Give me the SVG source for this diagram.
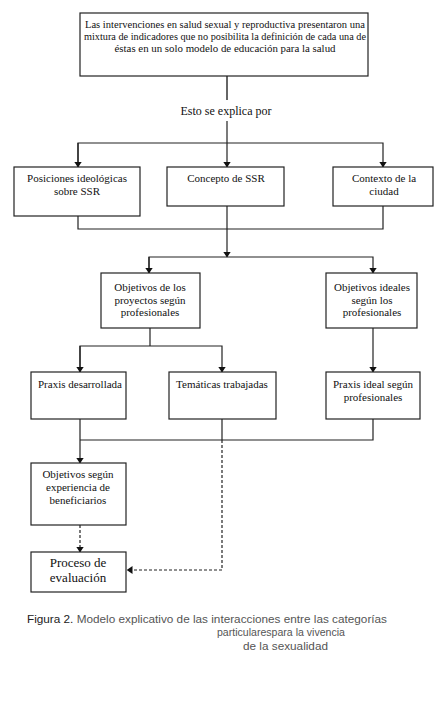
<svg xmlns="http://www.w3.org/2000/svg" width="448" height="705" viewBox="0 0 448 705">
<defs>
<marker id="ah" markerWidth="6" markerHeight="8" refX="5.5" refY="4" orient="auto" markerUnits="userSpaceOnUse">
<path d="M0,0 L6,4 L0,8 Z" fill="#111"/>
</marker>
</defs>
<style>
.box{fill:#fff;stroke:#222;stroke-width:1.2}
.t{font-family:"Liberation Serif",serif;font-size:11px;fill:#111;text-anchor:middle}
.ln{fill:none;stroke:#222;stroke-width:1.2}
.dash{fill:none;stroke:#222;stroke-width:1.2;stroke-dasharray:3,2}
.cap{font-family:"Liberation Sans",sans-serif;font-size:11px;fill:#555}
</style>
<rect width="448" height="705" fill="#fff"/>
<g id="connectors">
<line x1="227" y1="76" x2="227" y2="100" stroke="#666" stroke-width="2"/>
<line class="ln" x1="227" y1="121" x2="227" y2="167" marker-end="url(#ah)"/>
<polyline class="ln" points="78,167 78,143 383,143 383,167" marker-end="url(#ah)"/>
<line class="ln" x1="78" y1="143" x2="78" y2="167" marker-end="url(#ah)"/>
<polyline class="ln" points="78,216 78,229 383,229 383,206"/>
<line class="ln" x1="227" y1="206" x2="227" y2="257" marker-end="url(#ah)"/>
<polyline class="ln" points="149,273 149,257 373,257 373,273" marker-end="url(#ah)"/>
<line class="ln" x1="149" y1="257" x2="149" y2="273" marker-end="url(#ah)"/>
<line class="ln" x1="150" y1="328" x2="150" y2="346"/>
<polyline class="ln" points="80,372 80,346 222,346 222,372" marker-end="url(#ah)"/>
<line class="ln" x1="80" y1="346" x2="80" y2="372" marker-end="url(#ah)"/>
<line class="ln" x1="373" y1="328" x2="373" y2="372" marker-end="url(#ah)"/>
<line class="ln" x1="80" y1="419" x2="80" y2="463" marker-end="url(#ah)"/>
<polyline class="ln" points="80,440 373,440 373,419"/>
<line class="ln" x1="222" y1="419" x2="222" y2="440"/>
<polyline class="dash" points="222,440 222,570 127,570" marker-end="url(#ah)"/>
<line class="dash" x1="80" y1="525" x2="80" y2="552" marker-end="url(#ah)"/>
</g>
<g id="n-top">
<rect class="box" x="80" y="13" width="288" height="63"/>
<text class="t" x="225" y="28" style="font-size:10.5px" textLength="280" lengthAdjust="spacingAndGlyphs">Las intervenciones en salud sexual y reproductiva presentaron una</text>
<text class="t" x="225" y="40" style="font-size:10.5px" textLength="282" lengthAdjust="spacingAndGlyphs">mixtura de indicadores que no posibilita la definición de cada una de</text>
<text class="t" x="225" y="52" style="font-size:10.5px" textLength="221" lengthAdjust="spacingAndGlyphs">éstas en un solo modelo de educación para la salud</text>
</g>
<g id="n-esto">
<text class="t" x="226" y="115" style="font-size:12px">Esto se explica por</text>
</g>
<g id="n-posiciones">
<rect class="box" x="14" y="167" width="126" height="49"/>
<text class="t" x="77" y="182">Posiciones ideológicas</text>
<text class="t" x="77" y="195">sobre SSR</text>
</g>
<g id="n-concepto">
<rect class="box" x="167" y="167" width="117" height="39"/>
<text class="t" x="226" y="182">Concepto de SSR</text>
</g>
<g id="n-contexto">
<rect class="box" x="333" y="167" width="100" height="39"/>
<text class="t" x="384" y="182">Contexto de la</text>
<text class="t" x="384" y="195">ciudad</text>
</g>
<g id="n-objproy">
<rect class="box" x="101" y="273" width="99" height="55"/>
<text class="t" x="150" y="291">Objetivos de los</text>
<text class="t" x="150" y="304">proyectos según</text>
<text class="t" x="150" y="316">profesionales</text>
</g>
<g id="n-objideal">
<rect class="box" x="326" y="273" width="91" height="55"/>
<text class="t" x="372" y="291">Objetivos ideales</text>
<text class="t" x="372" y="304">según los</text>
<text class="t" x="372" y="316">profesionales</text>
</g>
<g id="n-praxis">
<rect class="box" x="31" y="372" width="95" height="47"/>
<text class="t" x="80" y="388">Praxis desarrollada</text>
</g>
<g id="n-tematicas">
<rect class="box" x="169" y="372" width="107" height="47"/>
<text class="t" x="222" y="388">Temáticas trabajadas</text>
</g>
<g id="n-praxisideal">
<rect class="box" x="326" y="372" width="94" height="47"/>
<text class="t" x="373" y="388">Praxis ideal según</text>
<text class="t" x="373" y="401">profesionales</text>
</g>
<g id="n-objbenef">
<rect class="box" x="31" y="463" width="95" height="62"/>
<text class="t" x="78" y="478">Objetivos según</text>
<text class="t" x="78" y="491">experiencia de</text>
<text class="t" x="78" y="504">beneficiarios</text>
</g>
<g id="n-proceso">
<rect class="box" x="31" y="552" width="95" height="40"/>
<text class="t" x="78" y="567" style="font-size:13px">Proceso de</text>
<text class="t" x="78" y="582" style="font-size:13px">evaluación</text>
</g>
<g id="caption">
<text class="cap" x="27" y="623" style="font-size:11.5px" textLength="360" lengthAdjust="spacingAndGlyphs"><tspan fill="#222">Figura 2.</tspan> Modelo explicativo de las interacciones entre las categorías</text>
<text class="cap" x="217" y="636" style="font-size:11.5px" textLength="128" lengthAdjust="spacingAndGlyphs">particularespara la vivencia</text>
<text class="cap" x="243" y="650" style="font-size:11.5px" textLength="85" lengthAdjust="spacingAndGlyphs">de la sexualidad</text>
</g>
</svg>
